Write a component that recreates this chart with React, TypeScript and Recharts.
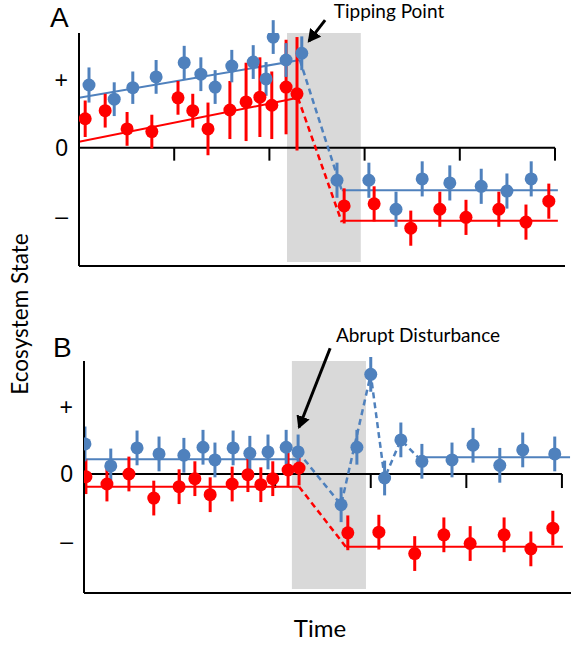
import {
  ComposedChart,
  Scatter,
  Line,
  XAxis,
  YAxis,
  ErrorBar,
  ReferenceArea,
  ReferenceLine,
} from 'recharts'

// [time, ecosystem state, error half-width]
type Obs = [number, number, number]
type Path = [number, number][]

const BLUE = '#4F81BD'
const RED = '#FF0000'
const SHADE = '#D9D9D9'

// ---- panel A: tipping point ----
const blueA: Obs[] = [
  [2.1, 0.93, 0.26], [7.4, 0.72, 0.25], [11.3, 0.89, 0.24], [16.2, 1.05, 0.25],
  [22.1, 1.26, 0.25], [25.6, 1.09, 0.25], [28.6, 0.9, 0.25], [32.1, 1.21, 0.24],
  [36.6, 1.27, 0.25], [39.3, 1.02, 0.25], [40.8, 1.64, 0.25], [43.5, 1.3, 0.25],
  [46.8, 1.4, 0.25],
  [54.2, -0.48, 0.26], [60.9, -0.48, 0.26], [66.6, -0.91, 0.26], [72.1, -0.46, 0.26],
  [77.9, -0.52, 0.26], [84.5, -0.57, 0.26], [89.9, -0.64, 0.26], [95.0, -0.46, 0.26],
]
const redA: Obs[] = [
  [1.3, 0.43, 0.27], [5.5, 0.55, 0.25], [10.1, 0.28, 0.25], [15.3, 0.24, 0.25],
  [20.8, 0.74, 0.25], [23.9, 0.55, 0.25], [27.1, 0.28, 0.39], [31.7, 0.56, 0.43],
  [35.1, 0.68, 0.58], [38.0, 0.75, 0.59], [40.5, 0.63, 0.5], [43.5, 0.9, 0.7],
  [45.8, 0.8, 0.84],
  [55.7, -0.86, 0.26], [62.0, -0.83, 0.26], [69.7, -1.19, 0.26], [75.8, -0.91, 0.26],
  [81.3, -1.03, 0.26], [88.2, -0.91, 0.26], [93.9, -1.1, 0.26], [98.7, -0.79, 0.26],
]
const blueTrendA: Path = [[0, 0.74], [46.4, 1.3]]
const blueShiftA: Path = [[46.4, 1.3], [55.2, -0.63]]
const blueAfterA: Path = [[55.2, -0.63], [100.6, -0.63]]
const redTrendA: Path = [[0, 0.09], [46.0, 0.74]]
const redShiftA: Path = [[46.0, 0.74], [55.2, -1.1]]
const redAfterA: Path = [[55.2, -1.08], [100.6, -1.08]]

// ---- panel B: abrupt disturbance ----
const blueB: Obs[] = [
  [0.2, 0.45, 0.26], [5.6, 0.12, 0.26], [11.1, 0.39, 0.26], [15.7, 0.3, 0.26],
  [20.9, 0.28, 0.26], [24.9, 0.4, 0.26], [27.4, 0.21, 0.26], [31.2, 0.39, 0.26],
  [34.7, 0.31, 0.26], [38.5, 0.33, 0.26], [42.3, 0.4, 0.26], [44.8, 0.33, 0.26],
  [53.8, -0.46, 0.26], [57.1, 0.4, 0.26], [60.0, 1.49, 0.26], [62.9, -0.06, 0.26],
  [66.3, 0.51, 0.26], [70.7, 0.19, 0.26], [77.0, 0.21, 0.26], [81.4, 0.43, 0.26],
  [87.0, 0.13, 0.26], [91.8, 0.36, 0.26], [98.5, 0.3, 0.26],
]
const redB: Obs[] = [
  [0.4, -0.04, 0.26], [4.8, -0.15, 0.26], [9.4, 0.0, 0.26], [14.6, -0.36, 0.26],
  [19.9, -0.19, 0.26], [23.2, -0.07, 0.26], [26.4, -0.31, 0.26], [31.0, -0.15, 0.26],
  [34.3, -0.01, 0.26], [37.0, -0.16, 0.26], [39.5, -0.07, 0.26], [42.7, 0.06, 0.26],
  [45.0, 0.09, 0.26],
  [55.2, -0.88, 0.26], [61.7, -0.87, 0.26], [69.2, -1.19, 0.26], [75.3, -0.91, 0.26],
  [80.8, -1.04, 0.26], [87.9, -0.91, 0.26], [93.5, -1.12, 0.26], [98.1, -0.81, 0.26],
]
const blueTrendB: Path = [[0, 0.22], [44.8, 0.22]]
const blueShiftB: Path = [[44.8, 0.33], [53.8, -0.46], [60.0, 1.49], [62.9, -0.06], [66.3, 0.51], [70.7, 0.19]]
const blueAfterB: Path = [[70.7, 0.25], [101.7, 0.25]]
const redTrendB: Path = [[0, -0.19], [45.0, -0.19]]
const redShiftB: Path = [[45.0, -0.19], [54.8, -1.09]]
const redAfterB: Path = [[54.8, -1.09], [100.2, -1.09]]

const timeTicks = [20, 40, 60, 80, 100]
const stateTicks = [-1, 0, 1]
const stateLabels: Record<string, string> = { '-1': '–', '0': '0', '1': '+' }

const toObs = (rows: Obs[]) => rows.map(([t, v, e]) => ({ t, v, e }))
const toPath = (rows: Path) => rows.map(([t, v]) => ({ t, v }))

const dotShape = (color: string) => (props: any) =>
  <circle cx={props.cx} cy={props.cy} r={6.5} fill={color} />

interface PanelProps {
  blue: Obs[]
  red: Obs[]
  solid: { path: Path; color: string }[]
  dashed: { path: Path; color: string }[]
  shade: [number, number, number, number]
  arrow: [number, number, number, number]
  xMax: number
  yDomain: [number, number]
  tickLen: number
  margin: { top: number; right: number; bottom: number; left: number }
  xAxisHeight: number
}

function Panel(p: PanelProps) {
  return (
    <ComposedChart width={571} height={280} margin={p.margin}>
      <XAxis
        type="number"
        dataKey="t"
        domain={[0, p.xMax]}
        allowDataOverflow
        height={p.xAxisHeight}
        tick={false}
        tickLine={false}
        axisLine={{ stroke: '#000', strokeWidth: 2 }}
      />
      <YAxis
        type="number"
        dataKey="v"
        domain={p.yDomain}
        allowDataOverflow
        ticks={stateTicks}
        width={30}
        tickLine={false}
        tickMargin={5}
        axisLine={{ stroke: '#000', strokeWidth: 2 }}
        tick={{ fontSize: 23, fill: '#000', fontFamily: 'Liberation Sans' }}
        tickFormatter={(v: number) => stateLabels[String(v)]}
      />
      <ReferenceArea
        x1={p.shade[0]}
        x2={p.shade[1]}
        y1={p.shade[2]}
        y2={p.shade[3]}
        fill={SHADE}
        fillOpacity={1}
        stroke="none"
      />
      <ReferenceLine
        segment={[{ x: 0, y: 0 }, { x: 100, y: 0 }]}
        stroke="#000"
        strokeWidth={2}
      />
      {timeTicks.map((t) => (
        <ReferenceLine
          key={t}
          segment={[{ x: t, y: 0 }, { x: t, y: -p.tickLen }]}
          stroke="#000"
          strokeWidth={2}
        />
      ))}
      {p.solid.map((s, i) => (
        <Line
          key={'s' + i}
          data={toPath(s.path)}
          dataKey="v"
          stroke={s.color}
          strokeWidth={2}
          dot={false}
          isAnimationActive={false}
        />
      ))}
      {p.dashed.map((s, i) => (
        <Line
          key={'d' + i}
          data={toPath(s.path)}
          dataKey="v"
          stroke={s.color}
          strokeWidth={2.5}
          strokeDasharray="6 4"
          dot={false}
          isAnimationActive={false}
        />
      ))}
      <Scatter data={toObs(p.red)} dataKey="v" shape={dotShape(RED)} isAnimationActive={false}>
        <ErrorBar dataKey="e" direction="y" width={0} stroke={RED} strokeWidth={3} />
      </Scatter>
      <Scatter data={toObs(p.blue)} dataKey="v" shape={dotShape(BLUE)} isAnimationActive={false}>
        <ErrorBar dataKey="e" direction="y" width={0} stroke={BLUE} strokeWidth={3} />
      </Scatter>
      <ReferenceLine
        segment={[{ x: p.arrow[0], y: p.arrow[1] }, { x: p.arrow[2], y: p.arrow[3] }]}
        stroke="#000"
        strokeWidth={3}
        ifOverflow="visible"
        markerEnd="url(#arrowHead)"
      />
    </ComposedChart>
  )
}

const textFont = 'Lato, "Open Sans", sans-serif'

export default function App() {
  return (
    <div style={{ position: 'absolute', left: 0, top: 0, width: 571, height: 646, background: '#fff' }}>
      <svg width={0} height={0} style={{ position: 'absolute' }}>
        <defs>
          <marker
            id="arrowHead"
            markerUnits="userSpaceOnUse"
            markerWidth={14}
            markerHeight={14}
            refX={11}
            refY={7}
            orient="auto"
          >
            <path d="M0,0 L13,7 L0,14 z" fill="#000" />
          </marker>
        </defs>
      </svg>
      <div style={{ position: 'absolute', left: 0, top: 0 }}>
        <Panel
          blue={blueA}
          red={redA}
          solid={[
            { path: blueTrendA, color: BLUE },
            { path: blueAfterA, color: BLUE },
            { path: redTrendA, color: RED },
            { path: redAfterA, color: RED },
          ]}
          dashed={[
            { path: blueShiftA, color: BLUE },
            { path: redShiftA, color: RED },
          ]}
          shade={[43.7, 59.2, -1.69, 1.7]}
          arrow={[51.7, 1.89, 48.3, 1.58]}
          xMax={102.1}
          yDomain={[-1.75, 1.7]}
          tickLen={0.19}
          margin={{ top: 33, right: 6, bottom: 0, left: 49 }}
          xAxisHeight={14}
        />
      </div>
      <div style={{ position: 'absolute', left: 0, top: 330 }}>
        <Panel
          blue={blueB}
          red={redB}
          solid={[
            { path: blueTrendB, color: BLUE },
            { path: blueAfterB, color: BLUE },
            { path: redTrendB, color: RED },
            { path: redAfterB, color: RED },
          ]}
          dashed={[
            { path: blueShiftB, color: BLUE },
            { path: redShiftB, color: RED },
          ]}
          shade={[43.5, 59.0, -1.72, 1.69]}
          arrow={[51.5, 1.88, 45.0, 0.7]}
          xMax={101.9}
          yDomain={[-1.78, 1.69]}
          tickLen={0.21}
          margin={{ top: 31, right: 0, bottom: 0, left: 54 }}
          xAxisHeight={17}
        />
      </div>
      <svg
        width={571}
        height={646}
        style={{ position: 'absolute', left: 0, top: 0, pointerEvents: 'none' }}
      >
        <text x={50} y={27} fontSize={28} fontFamily="Liberation Sans">A</text>
        <text x={53} y={357} fontSize={28} fontFamily="Liberation Sans">B</text>
        <text x={389} y={18} fontSize={19} fontFamily={textFont} textAnchor="middle">Tipping Point</text>
        <text x={418} y={342} fontSize={19} fontFamily={textFont} textAnchor="middle">Abrupt Disturbance</text>
        <text
          x={0}
          y={0}
          fontSize={22.5}
          fontFamily={textFont}
          textAnchor="middle"
          transform="translate(28,314) rotate(-90)"
        >
          Ecosystem State
        </text>
        <text x={320} y={637} fontSize={24} fontFamily={textFont} textAnchor="middle">Time</text>
      </svg>
    </div>
  )
}
